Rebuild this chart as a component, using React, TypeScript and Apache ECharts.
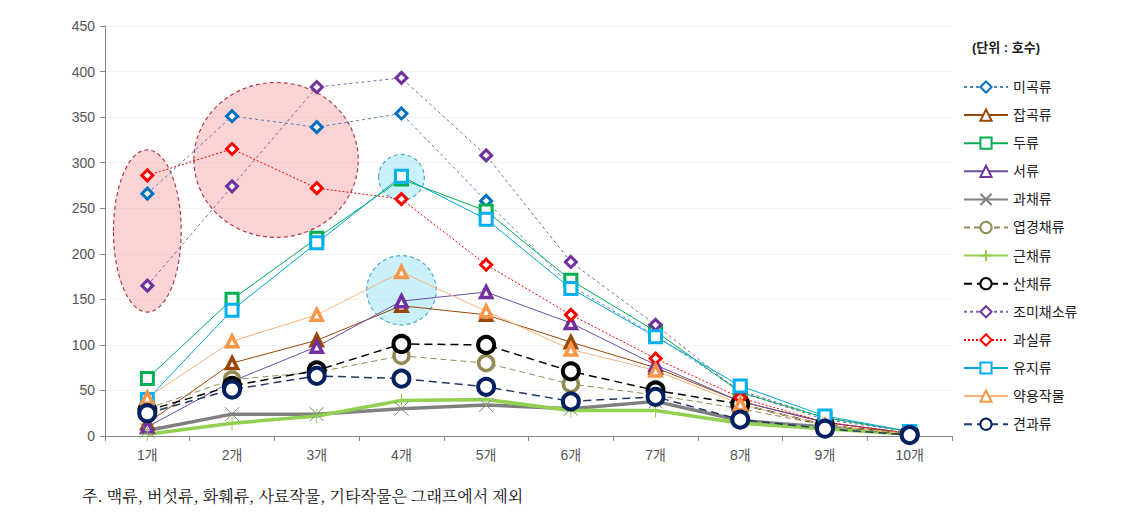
import React, { useEffect, useRef } from "react";
import * as echarts from "echarts";

const categories = ["1개", "2개", "3개", "4개", "5개", "6개", "7개", "8개", "9개", "10개"];
const yTicks = [0, 50, 100, 150, 200, 250, 300, 350, 400, 450];

const migok = [266, 351, 339, 354, 258, 165, 110, 50, 20, 5];
const japgok = [14, 80, 105, 143, 133, 103, 75, 38, 15, 3];
const duryu = [63, 150, 217, 282, 247, 171, 115, 48, 20, 5];
const seoryu = [10, 60, 98, 148, 158, 124, 78, 38, 15, 3];
const gwachae = [6, 24, 24, 30, 34, 30, 38, 17, 10, 2];
const yeopgyeong = [30, 62, 70, 88, 80, 57, 45, 30, 12, 2];
const geunchae = [2, 14, 22, 39, 40, 28, 28, 14, 8, 2];
const sanchae = [28, 55, 72, 101, 100, 71, 50, 35, 12, 2];
const jomi = [165, 274, 383, 393, 308, 191, 122, 48, 18, 5];
const gwasil = [286, 315, 272, 260, 188, 133, 85, 42, 15, 3];
const yuji = [40, 138, 212, 285, 238, 162, 109, 55, 22, 5];
const yakyong = [42, 104, 133, 180, 137, 95, 72, 35, 12, 2];
const gyeongwa = [25, 51, 66, 63, 54, 38, 43, 18, 8, 1];

// annotation ellipses in data units: [catCenter, valueCenter, catRadius, valueRadius]
const pinkMarks = [
  [0, 225, 0.4, 89],
  [1.52, 303, 0.97, 85],
];
const cyanMarks = [
  [3, 284, 0.27, 25],
  [3, 160, 0.41, 38],
];

const FONT = "'Liberation Sans', 'Noto Sans CJK KR', sans-serif";
const X_PATH = "path://M0,0L10,10M10,0L0,10";
const PLUS_PATH = "path://M5,0L5,10M0,5L10,5";

type S = {
  name: string;
  data: number[];
  color: string;
  lineColor?: string;
  lineType: string | number[];
  width: number;
  symbol: string;
  size: number;
  bw: number;
  fill?: string;
};

const seriesDefs: S[] = [
  { name: "미곡류", data: migok, color: "#0070C0", lineColor: "#4F81BD", lineType: [3, 3], width: 1, symbol: "diamond", size: 11, bw: 3 },
  { name: "잡곡류", data: japgok, color: "#984807", lineColor: "#984807", lineType: "solid", width: 1, symbol: "triangle", size: 11, bw: 3.5 },
  { name: "두류", data: duryu, color: "#00B050", lineType: "solid", width: 1, symbol: "rect", size: 12, bw: 3 },
  { name: "서류", data: seoryu, color: "#7030A0", lineColor: "#6A4FA0", lineType: "solid", width: 1, symbol: "triangle", size: 11, bw: 3.5 },
  { name: "과채류", data: gwachae, color: "#808080", lineType: "solid", width: 3.5, symbol: X_PATH, size: 14, bw: 1, fill: "none" },
  { name: "엽경채류", data: yeopgyeong, color: "#948A54", lineType: [6, 4], width: 1, symbol: "circle", size: 15, bw: 3.5 },
  { name: "근채류", data: geunchae, color: "#92D050", lineType: "solid", width: 3.5, symbol: PLUS_PATH, size: 14, bw: 1, fill: "none" },
  { name: "산채류", data: sanchae, color: "#000000", lineType: [8, 5], width: 1.5, symbol: "circle", size: 16, bw: 4 },
  { name: "조미채소류", data: jomi, color: "#7030A0", lineColor: "#8064A2", lineType: [3, 3], width: 1, symbol: "diamond", size: 11, bw: 3 },
  { name: "과실류", data: gwasil, color: "#FF0000", lineColor: "#FF0000", lineType: [2, 2], width: 1, symbol: "diamond", size: 11, bw: 3 },
  { name: "유지류", data: yuji, color: "#00B0F0", lineColor: "#00A6D6", lineType: "solid", width: 1, symbol: "rect", size: 12, bw: 3 },
  { name: "약용작물", data: yakyong, color: "#F79646", lineColor: "#F8B27A", lineType: "solid", width: 1, symbol: "triangle", size: 11, bw: 3.5 },
  { name: "견과류", data: gyeongwa, color: "#002060", lineColor: "#1F3864", lineType: [8, 5], width: 1.5, symbol: "circle", size: 16, bw: 4 },
];

export default function App() {
  const ref = useRef<HTMLDivElement>(null);
  useEffect(() => {
    if (!ref.current) return;
    const chart = echarts.init(ref.current, null, { renderer: "svg" });
    const option: any = {
      animation: false,
      backgroundColor: "#ffffff",
      grid: { left: 105, right: 196, top: 26, bottom: 86 },
      legend: {
        orient: "vertical",
        left: 958,
        top: 75,
        itemWidth: 44,
        itemHeight: 14,
        itemGap: 14.1,
        textStyle: { fontFamily: FONT, fontSize: 14, color: "#222" },
        data: seriesDefs.map((s) => s.name),
      },
      xAxis: {
        type: "category",
        data: categories,
        boundaryGap: true,
        axisLine: { lineStyle: { color: "#868686", width: 1 } },
        axisTick: { show: true, alignWithLabel: false, length: 5, lineStyle: { color: "#868686" } },
        axisLabel: { fontFamily: FONT, fontSize: 14, color: "#555", margin: 12 },
      },
      yAxis: {
        type: "value",
        min: 0,
        max: 450,
        interval: 50,
        axisLine: { show: true, lineStyle: { color: "#868686" } },
        axisTick: { show: true, length: 5, lineStyle: { color: "#868686" } },
        axisLabel: {
          fontFamily: FONT,
          fontSize: 14,
          color: "#555",
          margin: 10,
          formatter: (v: number) => (yTicks.includes(v) ? String(v) : ""),
        },
        splitLine: { show: true, lineStyle: { color: "#F3F3F3" } },
      },
      series: seriesDefs.map((s) => ({
        name: s.name,
        type: "line",
        data: s.data,
        symbol: s.symbol,
        symbolSize: s.size,
        showSymbol: true,
        z: 3,
        lineStyle: { color: s.lineColor || s.color, width: s.width, type: s.lineType },
        itemStyle: {
          color: s.fill === "none" ? "rgba(0,0,0,0)" : "#ffffff",
          borderColor: s.color,
          borderWidth: s.bw,
        },
        emphasis: { disabled: true },
      })),
    };
    chart.setOption(option);

    const xPix = (i: number) => {
      const a = chart.convertToPixel({ xAxisIndex: 0 }, 0) as number;
      const b = chart.convertToPixel({ xAxisIndex: 0 }, 1) as number;
      return a + (b - a) * i;
    };
    const yPix = (v: number) => chart.convertToPixel({ yAxisIndex: 0 }, v) as number;
    const ell = (m: number[], fill: string, stroke: string) => ({
      type: "ellipse",
      z: 1,
      silent: true,
      shape: {
        cx: xPix(m[0]),
        cy: yPix(m[1]),
        rx: Math.abs(xPix(m[0] + m[2]) - xPix(m[0])),
        ry: Math.abs(yPix(m[1]) - yPix(m[1] + m[3])),
      },
      style: { fill, stroke, lineWidth: 1.2, lineDash: [4, 3] },
    });

    chart.setOption({
      graphic: [
        ...pinkMarks.map((m) => ell(m, "rgba(245,160,160,0.45)", "#B03A48")),
        ...cyanMarks.map((m) => ell(m, "rgba(150,225,245,0.5)", "#4BACC6")),
        {
          type: "text",
          left: 972,
          top: 41,
          style: { text: "(단위 : 호수)", font: `bold 13px ${FONT}`, fill: "#222" },
        },
        {
          type: "text",
          left: 82,
          top: 487,
          style: { text: "주. 맥류, 버섯류, 화훼류, 사료작물, 기타작물은 그래프에서 제외", font: `16px 'Noto Serif CJK KR', 'Noto Sans CJK KR', serif`, fill: "#111" },
        },
      ],
    });
    return () => chart.dispose();
  }, []);
  return <div ref={ref} style={{ width: 1148, height: 522, position: "absolute", left: 0, top: 0 }} />;
}
